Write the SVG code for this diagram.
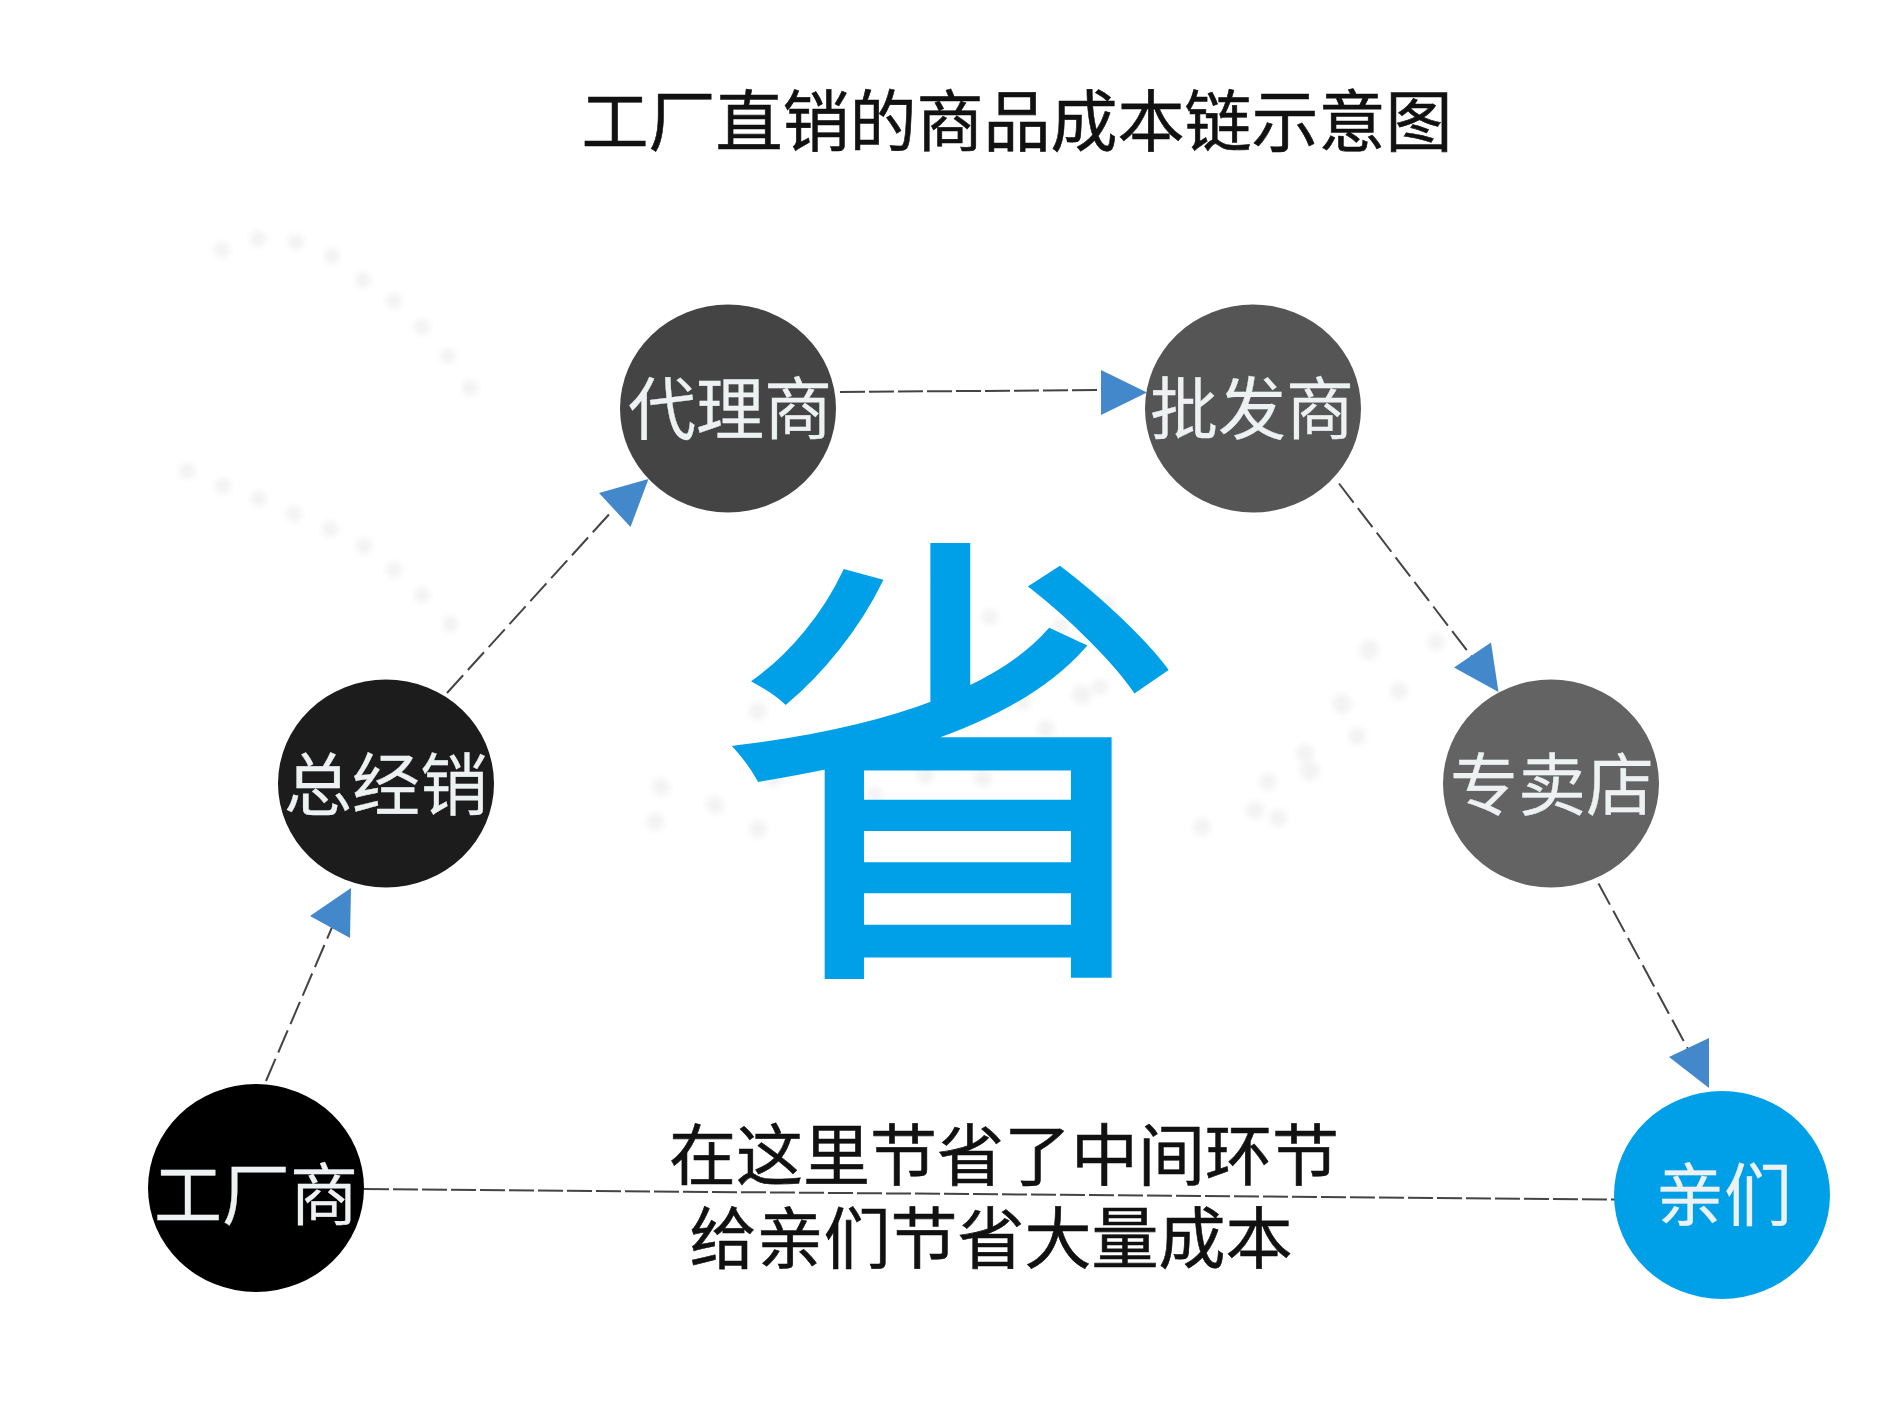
<svg xmlns="http://www.w3.org/2000/svg" width="1890" height="1417" viewBox="0 0 1890 1417">
<style>
text{font-family:"Noto Sans CJK SC","Noto Sans",sans-serif;text-anchor:middle}
.n{font-size:68px;fill:#edf1f2;stroke:#edf1f2;stroke-width:.3}
.t{font-size:67px;fill:#111;stroke:#111;stroke-width:.6}
.c{fill:none;stroke:#444;stroke-width:2;stroke-dasharray:24 7}
.l{stroke-dasharray:25 4}
.a{fill:#4488cc}
.d{fill:#f3f3f3}
</style>
<defs><filter id="b" x="-50%" y="-50%" width="200%" height="200%"><feGaussianBlur stdDeviation="3"/></filter></defs>
<rect width="1890" height="1417" fill="#fff"/>
<g id="dots" class="d" filter="url(#b)">
<circle cx="222" cy="250" r="8"/><circle cx="258" cy="239" r="8"/><circle cx="296" cy="242" r="8"/><circle cx="332" cy="256" r="8"/><circle cx="363" cy="280" r="8"/><circle cx="394" cy="301" r="8"/><circle cx="422" cy="327" r="8"/><circle cx="448" cy="356" r="8"/><circle cx="470" cy="388" r="8"/>
<circle cx="187" cy="471" r="8"/><circle cx="223" cy="486" r="8"/><circle cx="259" cy="499" r="8"/><circle cx="294" cy="514" r="8"/><circle cx="330" cy="529" r="8"/><circle cx="364" cy="546" r="8"/><circle cx="394" cy="570" r="8"/><circle cx="422" cy="595" r="8"/><circle cx="450" cy="624" r="8"/>
<circle cx="661" cy="787" r="9"/><circle cx="715" cy="805" r="9"/><circle cx="655" cy="822" r="9"/><circle cx="758" cy="829" r="9"/><circle cx="773" cy="778" r="9"/><circle cx="758" cy="711" r="9"/><circle cx="786" cy="687" r="9"/><circle cx="845" cy="584" r="9"/>
<circle cx="1369" cy="650" r="10"/><circle cx="1436" cy="642" r="9"/><circle cx="1342" cy="704" r="10"/><circle cx="1399" cy="691" r="9"/><circle cx="1357" cy="736" r="9"/><circle cx="1305" cy="753" r="9"/><circle cx="1310" cy="771" r="10"/><circle cx="1268" cy="782" r="9"/><circle cx="1255" cy="810" r="9"/><circle cx="1278" cy="818" r="9"/><circle cx="1202" cy="827" r="9"/>
<circle cx="1082" cy="695" r="10"/><circle cx="1100" cy="687" r="8"/><circle cx="1023" cy="702" r="8"/><circle cx="1046" cy="729" r="9"/><circle cx="1107" cy="604" r="8"/><circle cx="1061" cy="626" r="8"/><circle cx="990" cy="617" r="8"/><circle cx="983" cy="778" r="9"/><circle cx="925" cy="775" r="9"/><circle cx="875" cy="795" r="8"/>
</g>
<g id="connectors">
<path class="c" d="M266 1081L333 925"/><path class="a" d="M351 888L310 916L350 938Z"/>
<path class="c" d="M447 693L613 510"/><path class="a" d="M648.500 479L599 493L630.500 527Z"/>
<path class="c l" d="M840 392L1101 390"/><path class="a" d="M1147 392.500L1101 370L1101 415Z"/>
<path class="c" d="M1339 483.500L1472 657"/><path class="a" d="M1498.500 692L1454 667.500L1491 642.500Z"/>
<path class="c" d="M1598.500 883.500L1688 1049"/><path class="a" d="M1709 1088L1669 1057L1709 1038Z"/>
<path class="c l" d="M364 1189L1615 1199.500"/>
</g>
<text id="title" class="t" x="1017" y="146">工厂直销的商品成本链示意图</text>
<text id="big" x="955" y="940" style="font-size:470px;fill:#00a0e9;font-weight:400;stroke:#00a0e9;stroke-width:5">省</text>
<g id="caption"><text class="t" x="1004" y="1180">在这里节省了中间环节</text><text class="t" x="991" y="1263">给亲们节省大量成本</text></g>
<g id="node-factory"><ellipse cx="256" cy="1188" rx="108" ry="104" fill="#000"/><text class="n" x="256" y="1220">工厂商</text></g>
<g id="node-distributor"><ellipse cx="386" cy="783.500" rx="108" ry="104" fill="#1c1c1c"/><text class="n" x="386" y="810">总经销</text></g>
<g id="node-agent"><ellipse cx="728" cy="408.500" rx="108" ry="104" fill="#444"/><text class="n" x="730" y="434">代理商</text></g>
<g id="node-wholesaler"><ellipse cx="1253" cy="408.500" rx="108" ry="104" fill="#555"/><text class="n" x="1252" y="434">批发商</text></g>
<g id="node-store"><ellipse cx="1551" cy="783.500" rx="108" ry="104" fill="#636363"/><text class="n" x="1552" y="810">专卖店</text></g>
<g id="node-customer"><ellipse cx="1722" cy="1195" rx="108" ry="104" fill="#00a0e9"/><text class="n" x="1724" y="1220">亲们</text></g>
</svg>
